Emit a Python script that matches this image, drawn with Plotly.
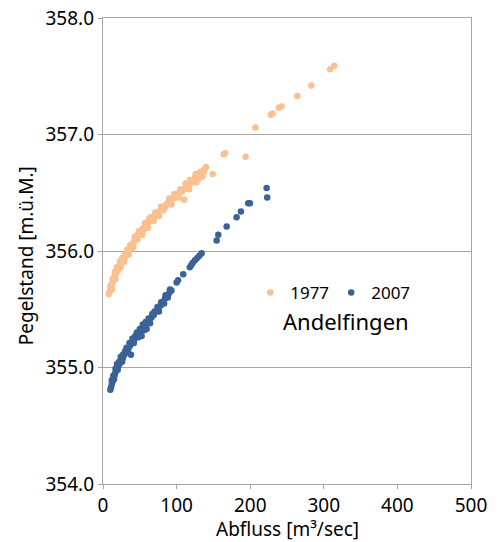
import plotly.graph_objects as go

# 1977 series: Abfluss [m3/sec], Pegelstand [m.ü.M.]
x1977 = [8, 9, 10, 11, 12, 13, 14, 15, 16, 17, 18, 19, 20, 21, 22, 23, 24, 25, 27, 28,
         30, 32, 34, 36, 38, 40, 42, 44, 46, 48, 50, 52, 54, 56, 58, 60, 62, 64, 66, 68,
         70, 72, 75, 78, 80, 83, 86, 89, 92, 95, 98, 101, 104, 107, 110, 113, 116, 119, 122, 125,
         128, 131, 134, 137, 140,
         20, 30, 45, 55, 65, 85, 100, 115, 125, 130, 135, 138,
         10, 13, 16, 19, 23, 26, 33, 37, 43, 49, 57, 63, 71, 79, 90, 97, 105, 112, 118, 126, 132,
         12, 17, 24, 29, 35, 41, 47, 53, 61, 69, 76, 82, 93, 103, 117, 127,
         110.4, 149, 164, 166, 193.8, 207, 228, 230.4, 239, 242.6, 264, 283, 308.7, 314]
y1977 = [355.63, 355.65, 355.67, 355.69, 355.71, 355.73, 355.75, 355.77, 355.79, 355.80,
         355.82, 355.83, 355.85, 355.86, 355.87, 355.88, 355.89, 355.90, 355.92, 355.93,
         355.95, 355.97, 355.99, 356.01, 356.03, 356.06, 356.08, 356.10, 356.12, 356.14,
         356.16, 356.17, 356.19, 356.20, 356.22, 356.23, 356.25, 356.26, 356.28, 356.29,
         356.30, 356.31, 356.33, 356.35, 356.36, 356.38, 356.40, 356.42, 356.43, 356.45,
         356.46, 356.48, 356.50, 356.51, 356.53, 356.55, 356.57, 356.58, 356.60, 356.61,
         356.63, 356.64, 356.66, 356.68, 356.72,
         355.83, 355.97, 356.13, 356.18, 356.29, 356.38, 356.49, 356.54, 356.63, 356.62, 356.64, 356.70,
         355.70, 355.76, 355.82, 355.86, 355.91, 355.94, 356.01, 356.05, 356.12, 356.17, 356.24,
         356.28, 356.33, 356.38, 356.45, 356.49, 356.53, 356.58, 356.61, 356.66, 356.68,
         355.67, 355.76, 355.86, 355.91, 355.97, 356.03, 356.10, 356.14, 356.20, 356.26,
         356.30, 356.35, 356.40, 356.46, 356.53, 356.59,
         356.44, 356.66, 356.83, 356.84, 356.81, 357.06, 357.17, 357.18, 357.23, 357.24,
         357.33, 357.42, 357.56, 357.59]

# 2007 series
x2007 = [10, 11, 12, 13, 14, 15, 16, 17, 18, 19, 20, 21, 22, 23, 24, 25, 27, 29, 31, 33,
         35, 37, 39, 41, 43, 45, 47, 49, 51, 53, 55, 57, 60, 63, 66, 69, 72, 75, 78, 81,
         84, 87, 90, 93,
         15, 22, 30, 44, 58, 70, 80, 88,
         12, 14, 17, 19, 24, 27, 32, 36, 40, 46, 50, 54, 62, 67, 74, 79, 85, 91,
         20, 26, 34, 42, 48, 56, 64, 76, 83,
         38, 52.5, 59.3,
         100, 102, 109, 118, 120, 122, 125, 128, 131, 134,
         154.4, 156.6, 168, 181.5, 187.4, 197.3, 199.6, 222.3, 223.1]
y2007 = [354.81, 354.83, 354.86, 354.88, 354.90, 354.92, 354.94, 354.96, 354.98, 354.99,
         355.01, 355.02, 355.03, 355.04, 355.05, 355.06, 355.08, 355.11, 355.13, 355.15,
         355.17, 355.19, 355.21, 355.23, 355.25, 355.27, 355.28, 355.30, 355.31, 355.33,
         355.35, 355.36, 355.38, 355.40, 355.43, 355.45, 355.48, 355.50, 355.53, 355.56,
         355.59, 355.62, 355.64, 355.66,
         354.90, 355.05, 355.14, 355.27, 355.39, 355.48, 355.55, 355.60,
         354.89, 354.93, 354.99, 355.03, 355.09, 355.11, 355.17, 355.21, 355.25, 355.30,
         355.33, 355.37, 355.42, 355.46, 355.52, 355.56, 355.62, 355.67,
         354.98, 355.05, 355.13, 355.21, 355.26, 355.32, 355.38, 355.48, 355.55,
         355.11, 355.27, 355.33,
         355.73, 355.75, 355.80, 355.86, 355.88, 355.90, 355.92, 355.94, 355.96, 355.98,
         356.09, 356.14, 356.21, 356.29, 356.34, 356.41, 356.41, 356.54, 356.46]

x_ticks = [0, 100, 200, 300, 400, 500]
y_ticks = [354, 355, 356, 357, 358]
y_tick_labels = ["354.0", "355.0", "356.0", "357.0", "358.0"]

FONT = "Noto Sans"
GRID = "#a6a6a6"
L, R, T, B = 103, 30, 17.5, 58
W, H = 501, 542
PW, PH = W - L - R, H - T - B

fig = go.Figure()
fig.add_trace(go.Scatter(x=x1977, y=y1977, mode="markers", name="1977",
                         marker=dict(color="#fac090", size=6.5, line=dict(width=0))))
fig.add_trace(go.Scatter(x=x2007, y=y2007, mode="markers", name="2007",
                         marker=dict(color="#3a6296", size=6.5, line=dict(width=0))))

fig.update_layout(
    width=W, height=H,
    margin=dict(l=L, r=R, t=T, b=B, autoexpand=False),
    paper_bgcolor="white", plot_bgcolor="white",
    font=dict(family=FONT, size=19, color="#000000"),
    showlegend=True,
    legend=dict(orientation="h", x=0.40, y=0.41, xanchor="left", yanchor="middle",
                font=dict(family=FONT, size=17), bgcolor="rgba(0,0,0,0)",
                itemwidth=30, tracegroupgap=0, entrywidth=36, entrywidthmode="pixels"),
    xaxis=dict(range=[0, 500], tickvals=x_ticks, ticks="outside", ticklen=4,
               tickcolor=GRID, showgrid=False, zeroline=False, automargin=False,
               showline=True, linecolor=GRID, linewidth=1.3, mirror=True,
               tickfont=dict(family=FONT, size=19)),
    yaxis=dict(range=[354, 358], tickvals=y_ticks, ticktext=y_tick_labels,
               ticks="outside", ticklen=4, tickcolor=GRID, automargin=False,
               showgrid=True, gridcolor=GRID, gridwidth=1.3, zeroline=False,
               showline=True, linecolor=GRID, linewidth=1.3, mirror=True,
               tickfont=dict(family=FONT, size=19)),
    annotations=[
        dict(text="Andelfingen", x=0.485, y=0.349, xref="paper", yref="paper",
             xanchor="left", yanchor="middle", showarrow=False,
             font=dict(family=FONT, size=22, color="#000000")),
        dict(text="Abfluss [m³/sec]", x=(287 - L) / PW, y=(H - B - 529) / PH,
             xref="paper", yref="paper", xanchor="center", yanchor="middle",
             showarrow=False, font=dict(family=FONT, size=19, color="#000000")),
        dict(text="Pegelstand [m.ü.M.]", x=(26 - L) / PW, y=(H - B - 256) / PH,
             xref="paper", yref="paper", xanchor="center", yanchor="middle",
             textangle=-90, showarrow=False,
             font=dict(family=FONT, size=19, color="#000000")),
    ],
)

fig.write_html("out.html", config={"displayModeBar": False},
               post_script="document.body.style.margin='0';document.body.style.overflow='hidden';")
